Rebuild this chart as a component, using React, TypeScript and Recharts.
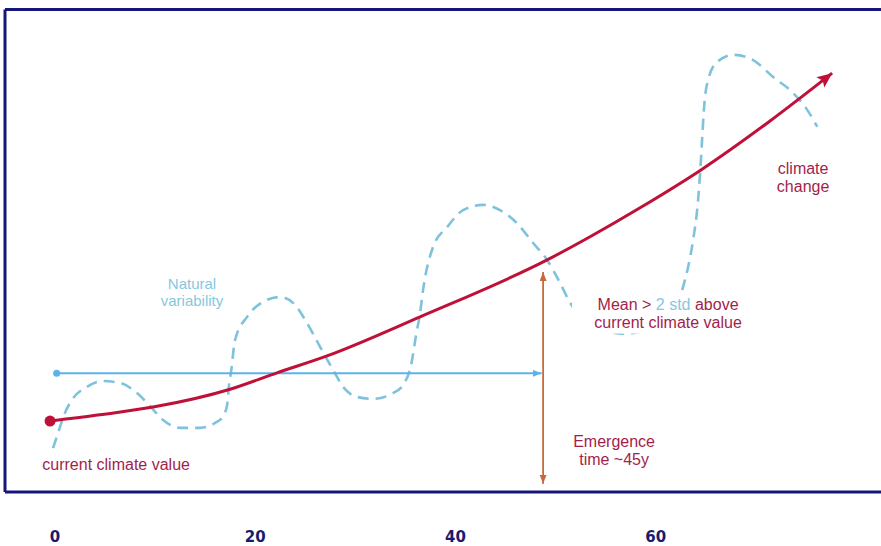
import React from 'react';
import { ComposedChart, Line, XAxis, YAxis, ReferenceLine, ReferenceDot } from 'recharts';

// years (t) vs climate value (v, arbitrary units 0-100)
const climateChange = [
  { t: -0.5, v: 14.7 }, { t: 4.49, v: 16.0 }, { t: 9.79, v: 17.6 }, { t: 17.48, v: 21.3 },
  { t: 22.17, v: 24.7 }, { t: 27.17, v: 28.2 }, { t: 36.46, v: 36.3 }, { t: 49.15, v: 48.1 },
  { t: 53.44, v: 52.9 }, { t: 58.44, v: 58.9 }, { t: 64.63, v: 66.9 }, { t: 71.42, v: 76.9 },
  { t: 77.62, v: 86.8 },
];

const naturalVariability = [
  { t: -0.2, v: 9.1 }, { t: 0.29, v: 12.2 }, { t: 0.99, v: 16.4 }, { t: 1.69, v: 19.1 },
  { t: 3.19, v: 21.8 }, { t: 4.79, v: 23.0 }, { t: 6.49, v: 22.6 }, { t: 8.19, v: 20.5 },
  { t: 9.49, v: 17.8 }, { t: 10.79, v: 14.9 }, { t: 12.48, v: 13.3 }, { t: 14.48, v: 13.3 },
  { t: 15.98, v: 14.3 }, { t: 16.78, v: 15.7 }, { t: 17.18, v: 18.0 }, { t: 17.38, v: 22.2 },
  { t: 17.58, v: 24.9 }, { t: 17.98, v: 31.5 }, { t: 19.18, v: 36.3 }, { t: 20.77, v: 39.4 },
  { t: 22.47, v: 40.4 }, { t: 23.77, v: 39.2 }, { t: 25.17, v: 35.0 }, { t: 26.47, v: 30.1 },
  { t: 27.77, v: 25.3 }, { t: 28.77, v: 21.8 }, { t: 30.17, v: 19.7 }, { t: 31.77, v: 19.3 },
  { t: 33.77, v: 20.5 }, { t: 34.96, v: 22.8 }, { t: 35.56, v: 26.3 }, { t: 36.06, v: 32.5 },
  { t: 36.46, v: 37.1 }, { t: 36.76, v: 41.9 }, { t: 37.76, v: 50.8 }, { t: 39.16, v: 54.9 },
  { t: 40.76, v: 58.4 }, { t: 42.76, v: 59.5 }, { t: 44.45, v: 58.4 }, { t: 46.15, v: 55.7 },
  { t: 47.75, v: 51.6 }, { t: 49.15, v: 48.1 }, { t: 50.45, v: 43.3 }, { t: 51.45, v: 39.2 },
  { t: 52.94, v: 35.6 }, { t: 54.94, v: 33.4 }, { t: 56.94, v: 32.8 }, { t: 58.94, v: 33.5 },
  { t: 60.93, v: 35.8 }, { t: 62.43, v: 40.2 }, { t: 62.73, v: 42.5 }, { t: 63.23, v: 46.6 },
  { t: 63.73, v: 52.2 }, { t: 64.23, v: 60.5 }, { t: 64.43, v: 66.1 }, { t: 64.63, v: 73.0 },
  { t: 64.83, v: 79.8 }, { t: 65.23, v: 85.4 }, { t: 66.13, v: 89.1 }, { t: 67.73, v: 90.6 },
  { t: 69.73, v: 89.5 }, { t: 71.73, v: 86.0 }, { t: 73.73, v: 82.7 }, { t: 75.13, v: 79.2 },
  { t: 76.13, v: 75.7 },
];

const currentValueLine = [{ t: 0.16, v: 24.6 }, { t: 48.6, v: 24.6 }];
const emergenceArrow = [{ t: 48.75, v: 45.6 }, { t: 48.75, v: 1.7 }];

const xTicks = [0, 20, 40, 60];
const xDomain = [-5, 82.5];
const yDomain = [0, 100];

type Seg = [string, 'main' | 'blue'];
const annotations: { t: number; v: number; lines: Seg[][]; kind: 'red' | 'blue'; box?: boolean }[] = [
  { t: 6.1, v: 4.66, lines: [[['current climate value', 'main']]], kind: 'red' },
  { t: 13.68, v: 42.07, lines: [[['Natural', 'blue']], [['variability', 'blue']]], kind: 'blue' },
  {
    t: 61.23, v: 37.8, kind: 'red', box: true,
    lines: [[['Mean > ', 'main'], ['2 std', 'blue'], [' above', 'main']], [['current climate value', 'main']]],
  },
  { t: 55.84, v: 9.4, lines: [[['Emergence', 'main']], [['time ~45y', 'main']]], kind: 'red' },
  { t: 74.72, v: 66.0, lines: [[['climate', 'main']], [['change', 'main']]], kind: 'red' },
];

const NAVY = '#16167a';
const RED = '#bf1038';
const TEXT_RED = '#a31e4c';
const DASH_BLUE = '#7ec2dc';
const TEXT_BLUE = '#86c8e0';
const LINE_BLUE = '#5cb3ea';
const ORANGE = '#c8683c';
const FONT = '"Liberation Sans", Arial, sans-serif';

const XTick = (props: any) => {
  const { x, y, payload } = props;
  return (
    <text x={x} y={y + 50} textAnchor="middle" fontFamily='"DejaVu Sans", sans-serif'
      fontWeight={700} fontSize={15} fill="#1b1b6b">
      {payload.value}
    </text>
  );
};

const makeNote = (note: (typeof annotations)[number]) => (props: any) => {
  const { cx, cy } = props;
  const size = note.kind === 'blue' ? 15 : 16;
  const lh = note.kind === 'blue' ? 17 : 18.5;
  return (
    <g>
      {note.box && <rect x={cx - 96} y={cy - 19} width={190} height={43} fill="#ffffff" />}
      <text x={cx} y={cy} textAnchor="middle" fontFamily={FONT} fontSize={size} style={{ whiteSpace: 'pre' }}>
        {note.lines.map((line, i) => (
          <tspan key={i} x={cx} dy={i === 0 ? 0 : lh}>
            {line.map(([txt, tone], j) => (
              <tspan key={j} fill={tone === 'blue' ? TEXT_BLUE : TEXT_RED}>{txt}</tspan>
            ))}
          </tspan>
        ))}
      </text>
    </g>
  );
};

const redStartDot = (props: any) => {
  const { cx, cy, index } = props;
  if (index !== 0) return <g key={`r${index}`} />;
  return <circle key="rs" cx={cx} cy={cy} r={5.5} fill={RED} />;
};

const blueStartDot = (props: any) => {
  const { cx, cy, index } = props;
  if (index !== 0) return <g key={`b${index}`} />;
  return <circle key="bs" cx={cx} cy={cy} r={3.5} fill={LINE_BLUE} />;
};

export default function App() {
  return (
    <div style={{ position: 'absolute', left: 0, top: 0, background: '#fff' }}>
      <ComposedChart width={881} height={546} margin={{ top: 9.5, right: 0, bottom: 0, left: 5 }}>
        <defs>
          <marker id="redArrow" markerUnits="userSpaceOnUse" markerWidth={18} markerHeight={14}
            refX={15} refY={6.5} orient="auto">
            <path d="M0,0 L15,6.5 L0,13 L3,6.5 Z" fill={RED} />
          </marker>
          <marker id="blueArrow" markerUnits="userSpaceOnUse" markerWidth={12} markerHeight={10}
            refX={9} refY={3.5} orient="auto">
            <path d="M0,0 L9,3.5 L0,7 Z" fill={LINE_BLUE} />
          </marker>
          <marker id="orangeArrow" markerUnits="userSpaceOnUse" markerWidth={12} markerHeight={10}
            refX={9} refY={3.5} orient="auto-start-reverse">
            <path d="M0,0 L9,3.5 L0,7 Z" fill={ORANGE} />
          </marker>
        </defs>
        <XAxis dataKey="t" type="number" domain={xDomain} ticks={xTicks} height={54}
          axisLine={false} tickLine={false} tickSize={0} tickMargin={0} tick={<XTick />} interval={0} />
        <YAxis hide type="number" domain={yDomain} />

        <ReferenceLine y={yDomain[1]} stroke={NAVY} strokeWidth={3} />
        <ReferenceLine x={xDomain[0]} stroke={NAVY} strokeWidth={3} />
        <ReferenceLine y={yDomain[0]} stroke={NAVY} strokeWidth={3} />

        <Line data={naturalVariability} dataKey="v" type="monotone" stroke={DASH_BLUE} strokeWidth={2.6}
          strokeDasharray="11 7" dot={false} isAnimationActive={false} />
        <Line data={currentValueLine} dataKey="v" type="linear" stroke={LINE_BLUE} strokeWidth={2}
          dot={blueStartDot} markerEnd="url(#blueArrow)" isAnimationActive={false} />
        <Line data={climateChange} dataKey="v" type="monotone" stroke={RED} strokeWidth={3}
          dot={redStartDot} markerEnd="url(#redArrow)" isAnimationActive={false} />
        <Line data={emergenceArrow} dataKey="v" type="linear" stroke={ORANGE} strokeWidth={1.8}
          dot={false} markerStart="url(#orangeArrow)" markerEnd="url(#orangeArrow)" isAnimationActive={false} />

        {annotations.map((note, i) => (
          <ReferenceDot key={i} x={note.t} y={note.v} r={0} shape={makeNote(note)} ifOverflow="visible" />
        ))}
      </ComposedChart>
    </div>
  );
}
